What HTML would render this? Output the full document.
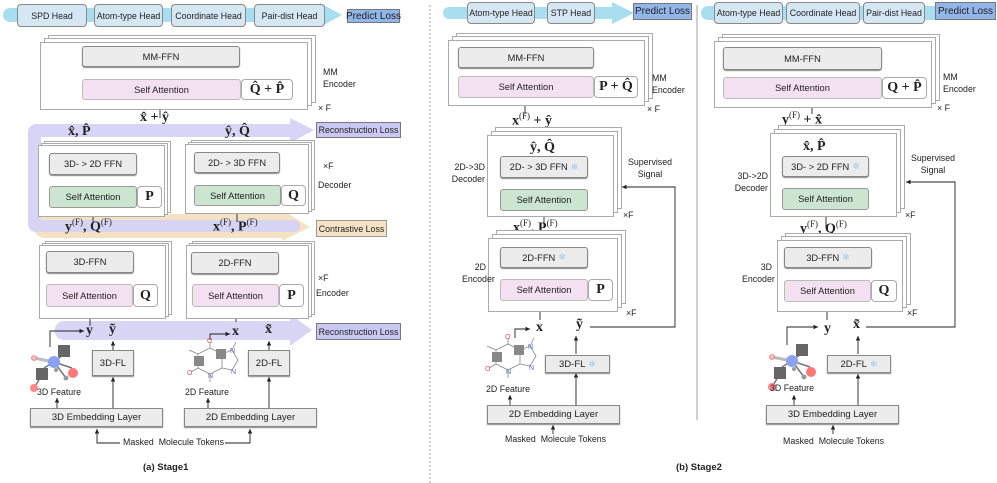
<!DOCTYPE html>
<html><head><meta charset="utf-8"><style>
*{margin:0;padding:0;box-sizing:border-box}
body{width:997px;height:483px;background:#fff;position:relative;overflow:hidden;font-family:"Liberation Sans",sans-serif;color:#222}
.a{position:absolute}
.b{position:absolute;display:flex;align-items:center;justify-content:center;font-size:9.3px;border:1px solid #999;border-radius:3px;white-space:nowrap}
.fr{position:absolute;border:1px solid #aaa;background:#fff}
.ffn{background:#ececec;border-color:#888;box-shadow:0 1px 1px #888}
.sa{background:#f3e0f1;border-color:#bbb}
.gr{background:#cce5d1;border-color:#999}
.hd{background:#d6e7f4;border-color:#888;border-radius:4px;font-size:8.8px}
.pl{background:#92b5ea;border:1px solid #777;border-radius:0;font-size:10px}
.rl{background:#c9c7f3;border:1px solid #777;border-radius:0;font-size:8.8px}
.cl{background:#f6e2c4;border:1px solid #999;border-radius:0;font-size:8.8px}
.m{position:absolute;font-family:"Liberation Serif",serif;font-weight:bold;font-size:14px;white-space:nowrap;line-height:1}
.m sup{font-size:9px;font-weight:normal}
.qb{background:#fff;border-color:#aaa;font-family:"Liberation Serif",serif;font-weight:bold;font-size:14px;border-radius:4px}
.t{position:absolute;font-size:8.8px;white-space:nowrap;line-height:1.35}
.sf{color:#9cc8ee;font-size:9px;margin-left:3px}
</style></head><body>
<svg class="a" style="left:0;top:0" width="997" height="483">
<defs><marker id="ar" markerWidth="6" markerHeight="6" refX="5" refY="3" orient="auto"><path d="M0,0.5 L5,3 L0,5.5Z" fill="#222"/></marker></defs>
<path d="M10,8 H320 V3 L342,15 L320,27 V22 H10 a7,7 0 0 1 0,-14Z" fill="#a8dff0"/>
<path d="M449,7 H612 V2 L634,13 L612,24 V19 H449 a6,6 0 0 1 0,-12Z" fill="#a8dff0"/>
<path d="M708,6 H936 V20 H708 a7,7 0 0 1 0,-14Z" fill="#a8dff0"/>
<path d="M45,214 H282 V210 L310,227 L282,241 V238 H45 a12,12 0 0 1 0,-24Z" fill="#f5e2c4"/>
<path d="M36,124 H290 V118 L314,130 L290,143 V137 H41 V220 H294 a6,6 0 0 1 0,12 H36 a8,8 0 0 1 -8,-8 V132 a8,8 0 0 1 8,-8Z" fill="#d5d2f4" opacity="0.95"/>
<path d="M64,321 H290 V314 L312,330 L290,346 V340 H64 a9.5,9.5 0 0 1 0,-19Z" fill="#d8d6f4"/>
<line x1="430" y1="5" x2="430" y2="483" stroke="#888" stroke-width="0.8" stroke-dasharray="2,2"/>
<line x1="697" y1="5" x2="697" y2="420" stroke="#888" stroke-width="0.8"/>
<g stroke="#222" stroke-width="0.9" fill="none" marker-end="url(#ar)">
<line x1="160" y1="79" x2="160" y2="68"/><line x1="160" y1="118" x2="160" y2="101"/>
<line x1="93" y1="186" x2="93" y2="176"/><line x1="93" y1="222" x2="93" y2="209"/>
<line x1="237" y1="185" x2="237" y2="174"/><line x1="237" y1="222" x2="237" y2="207"/>
<line x1="90" y1="284" x2="90" y2="274"/><line x1="90" y1="326" x2="90" y2="308"/>
<line x1="236" y1="284" x2="236" y2="275"/><line x1="236" y1="322" x2="236" y2="308"/>
<line x1="113" y1="350" x2="113" y2="341"/><line x1="113" y1="408" x2="113" y2="377"/>
<line x1="269" y1="350" x2="269" y2="341"/><line x1="269" y1="408" x2="269" y2="377"/>
<line x1="57" y1="408" x2="57" y2="398"/><line x1="208" y1="408" x2="208" y2="398"/>
<polyline points="50,347 50,331 84,331"/><polyline points="210,340 210,334 230,334"/>
<polyline points="120,443 97,443 97,429"/><polyline points="225,443 250,443 250,429"/>
<line x1="544" y1="76" x2="544" y2="69"/><line x1="525" y1="114" x2="525" y2="99"/>
<line x1="544" y1="189" x2="544" y2="179"/><line x1="544" y1="228" x2="544" y2="212"/>
<line x1="544" y1="279" x2="544" y2="269"/>
<line x1="576" y1="354" x2="576" y2="336"/><line x1="576" y1="405" x2="576" y2="373"/>
<line x1="510" y1="405" x2="510" y2="395"/><line x1="553" y1="434" x2="553" y2="425"/>
<polyline points="515,338 515,329 530,329"/><polyline points="590,327 675,327 675,187 622,187"/>
<line x1="812" y1="114" x2="812" y2="100"/><line x1="826" y1="188" x2="826" y2="178"/>
<line x1="826" y1="228" x2="826" y2="211"/><line x1="827" y1="280" x2="827" y2="269"/>
<line x1="858" y1="354" x2="858" y2="336"/><line x1="858" y1="405" x2="858" y2="374"/>
<line x1="794" y1="405" x2="794" y2="395"/><line x1="833" y1="434" x2="833" y2="425"/>
<polyline points="787,345 787,327 818,327"/><polyline points="866,327 955,327 955,182 906,182"/>
</g>
<g stroke="#222" stroke-width="0.9"><line x1="540" y1="312" x2="540" y2="320"/><line x1="827" y1="312" x2="827" y2="320"/></g>
<defs>
<g id="m3">
<line x1="10" y1="10" x2="30" y2="14" stroke="#bbb" stroke-width="3"/>
<line x1="30" y1="14" x2="42" y2="30" stroke="#777" stroke-width="1.5"/>
<line x1="30" y1="14" x2="48" y2="20" stroke="#777" stroke-width="1.5"/>
<line x1="30" y1="14" x2="40" y2="6" stroke="#777" stroke-width="1.5"/>
<line x1="30" y1="14" x2="20" y2="20" stroke="#777" stroke-width="1.5"/>
<line x1="16" y1="30" x2="10" y2="40" stroke="#777" stroke-width="1.5"/>
<circle cx="10" cy="10" r="2.5" fill="#fbb" stroke="#d66" stroke-width=".6"/>
<circle cx="30" cy="14" r="6" fill="#8aa2f2"/>
<circle cx="49" cy="25" r="5" fill="#f77"/>
<circle cx="10" cy="40" r="4" fill="#f88"/>
<circle cx="42" cy="30" r="2.5" fill="#999"/><circle cx="32" cy="22" r="2" fill="#999"/>
<rect x="34" y="-3" width="12" height="12" fill="#666"/><rect x="12" y="20" width="12" height="12" fill="#666"/>
</g>
<g id="m2" font-size="7" font-family="Liberation Sans">
<g stroke="#888" stroke-width="0.8" fill="none"><path d="M12,14 L24,8 L36,14 L36,28 L24,34 L12,28Z M36,14 L46,10 L52,20 L46,30 L36,28 M24,8 V2 M24,34 V42 M12,14 L3,10 M12,28 L5,32 M46,10 L50,2"/></g>
<rect x="8" y="16" width="10" height="10" fill="#888"/><rect x="30" y="9" width="10" height="10" fill="#888"/>
<text x="21" y="3" fill="#e55">O</text><text x="1" y="35" fill="#e55">O</text>
<text x="22" y="38" fill="#56c">N</text><text x="44" y="13" fill="#56c">N</text><text x="45" y="34" fill="#56c">N</text>
</g>
</defs>
<use href="#m3" x="24" y="348"/><use href="#m3" x="762" y="347"/>
<use href="#m2" x="186" y="340"/><use href="#m2" x="484" y="336"/>
</svg>

<div class="b hd" style="left:17px;top:4px;width:70px;height:23px">SPD Head</div>
<div class="b hd" style="left:94px;top:4px;width:69px;height:23px">Atom-type Head</div>
<div class="b hd" style="left:171px;top:4px;width:75px;height:23px">Coordinate Head</div>
<div class="b hd" style="left:254px;top:4px;width:71px;height:23px">Pair-dist Head</div>
<div class="b pl" style="left:347px;top:9px;width:53px;height:14px">Predict Loss</div>

<div class="fr" style="left:48px;top:35px;width:268px;height:68px"></div>
<div class="fr" style="left:44px;top:38px;width:268px;height:68px"></div>
<div class="fr" style="left:40px;top:42px;width:268px;height:68px"></div>
<div class="b ffn" style="left:82px;top:46px;width:158px;height:21px">MM-FFN</div>
<div class="b sa" style="left:82px;top:79px;width:159px;height:21px">Self Attention</div>
<div class="b qb" style="left:241px;top:79px;width:52px;height:21px">Q̂ + P̂</div>
<div class="t" style="left:323px;top:67px">MM<br>Encoder</div>
<div class="t" style="left:318px;top:103px">× F</div>
<div class="m" style="left:140px;top:111px">x̂ + ŷ</div>
<div class="m" style="left:68px;top:125px">x̂, P̂</div>
<div class="m" style="left:225px;top:125px">ŷ, Q̂</div>
<div class="b rl" style="left:316px;top:122px;width:85px;height:16px">Reconstruction Loss</div>

<div class="fr" style="left:44px;top:141px;width:127px;height:72px"></div>
<div class="fr" style="left:41px;top:143px;width:127px;height:72px"></div>
<div class="fr" style="left:38px;top:145px;width:127px;height:72px"></div>
<div class="b ffn" style="left:49px;top:153px;width:88px;height:22px">3D- &gt; 2D FFN</div>
<div class="b gr" style="left:49px;top:186px;width:88px;height:22px">Self Attention</div>
<div class="b qb" style="left:137px;top:186px;width:25px;height:22px">P</div>
<div class="fr" style="left:191px;top:140px;width:124px;height:70px"></div>
<div class="fr" style="left:188px;top:142px;width:124px;height:70px"></div>
<div class="fr" style="left:185px;top:144px;width:124px;height:70px"></div>
<div class="b ffn" style="left:194px;top:152px;width:86px;height:21px">2D- &gt; 3D FFN</div>
<div class="b gr" style="left:194px;top:185px;width:87px;height:21px">Self Attention</div>
<div class="b qb" style="left:281px;top:185px;width:25px;height:21px">Q</div>
<div class="t" style="left:323px;top:161px">×F</div>
<div class="t" style="left:318px;top:180px">Decoder</div>
<div class="m" style="left:65px;top:218px">y<sup>(F)</sup>, Q<sup>(F)</sup></div>
<div class="m" style="left:213px;top:218px">x<sup>(F)</sup>, P<sup>(F)</sup></div>
<div class="b cl" style="left:316px;top:220px;width:71px;height:17px">Contrastive Loss</div>

<div class="fr" style="left:45px;top:241px;width:127px;height:74px"></div>
<div class="fr" style="left:42px;top:243px;width:127px;height:74px"></div>
<div class="fr" style="left:39px;top:245px;width:127px;height:74px"></div>
<div class="b ffn" style="left:46px;top:251px;width:88px;height:22px">3D-FFN</div>
<div class="b sa" style="left:46px;top:284px;width:87px;height:23px">Self Attention</div>
<div class="b qb" style="left:133px;top:284px;width:25px;height:23px">Q</div>
<div class="fr" style="left:192px;top:241px;width:123px;height:74px"></div>
<div class="fr" style="left:189px;top:243px;width:123px;height:74px"></div>
<div class="fr" style="left:186px;top:245px;width:123px;height:74px"></div>
<div class="b ffn" style="left:191px;top:252px;width:88px;height:22px">2D-FFN</div>
<div class="b sa" style="left:192px;top:284px;width:87px;height:23px">Self Attention</div>
<div class="b qb" style="left:279px;top:284px;width:25px;height:23px">P</div>
<div class="t" style="left:318px;top:273px">×F</div>
<div class="t" style="left:316px;top:288px">Encoder</div>
<div class="m" style="left:86px;top:324px">y</div>
<div class="m" style="left:109px;top:323px">ỹ</div>
<div class="m" style="left:232px;top:325px">x</div>
<div class="m" style="left:265px;top:323px">x̃</div>
<div class="b rl" style="left:316px;top:323px;width:85px;height:17px">Reconstruction Loss</div>
<div class="b ffn" style="left:92px;top:350px;width:42px;height:26px;font-size:9.5px;border-radius:0">3D-FL</div>
<div class="b ffn" style="left:248px;top:350px;width:42px;height:26px;font-size:9.5px;border-radius:0">2D-FL</div>
<div class="t" style="left:37px;top:387px">3D Feature</div>
<div class="t" style="left:185px;top:387px">2D Feature</div>
<div class="b ffn" style="left:30px;top:408px;width:133px;height:19px;font-size:9.5px;border-radius:0">3D Embedding Layer</div>
<div class="b ffn" style="left:184px;top:408px;width:133px;height:19px;font-size:9.5px;border-radius:0">2D Embedding Layer</div>
<div class="t" style="left:123px;top:437px">Masked&nbsp; Molecule Tokens</div>
<div class="t" style="left:143px;top:462px;font-weight:bold;font-size:9.5px">(a) Stage1</div>

<div class="b hd" style="left:467px;top:2px;width:68px;height:22px">Atom-type Head</div>
<div class="b hd" style="left:547px;top:2px;width:48px;height:22px">STP Head</div>
<div class="b pl" style="left:633px;top:3px;width:59px;height:17px">Predict Loss</div>
<div class="fr" style="left:456px;top:33px;width:197px;height:66px"></div>
<div class="fr" style="left:452px;top:36px;width:197px;height:66px"></div>
<div class="fr" style="left:448px;top:40px;width:197px;height:66px"></div>
<div class="b ffn" style="left:458px;top:47px;width:136px;height:21px">MM-FFN</div>
<div class="b sa" style="left:458px;top:76px;width:136px;height:22px">Self Attention</div>
<div class="b qb" style="left:594px;top:76px;width:44px;height:22px">P + Q̂</div>
<div class="t" style="left:652px;top:73px">MM<br>Encoder</div>
<div class="t" style="left:647px;top:104px">× F</div>
<div class="m" style="left:512px;top:112px">x<sup>(F)</sup> + ŷ</div>
<div class="fr" style="left:495px;top:127px;width:127px;height:82px"></div>
<div class="fr" style="left:491px;top:131px;width:127px;height:82px"></div>
<div class="fr" style="left:487px;top:135px;width:127px;height:82px"></div>
<div class="m" style="left:530px;top:141px">ŷ, Q̂</div>
<div class="b ffn" style="left:500px;top:156px;width:88px;height:22px">2D- &gt; 3D FFN<span class="sf">❄</span></div>
<div class="b gr" style="left:500px;top:189px;width:88px;height:22px">Self Attention</div>
<div class="t" style="left:447px;top:162px;text-align:right;width:38px">2D-&gt;3D<br>Decoder</div>
<div class="t" style="left:625px;top:157px;text-align:center;width:50px">Supervised<br>Signal</div>
<div class="t" style="left:623px;top:210px">×F</div>
<div class="m" style="left:513px;top:219px">x<sup>(F)</sup>, P<sup>(F)</sup></div>
<div class="fr" style="left:496px;top:230px;width:130px;height:74px"></div>
<div class="fr" style="left:492px;top:234px;width:130px;height:74px"></div>
<div class="fr" style="left:488px;top:238px;width:130px;height:74px"></div>
<div class="b ffn" style="left:500px;top:247px;width:88px;height:21px">2D-FFN<span class="sf">❄</span></div>
<div class="b sa" style="left:500px;top:279px;width:88px;height:22px">Self Attention</div>
<div class="b qb" style="left:588px;top:279px;width:25px;height:22px">P</div>
<div class="t" style="left:462px;top:262px;text-align:right;width:24px">2D<br>Encoder</div>
<div class="t" style="left:626px;top:308px">×F</div>
<div class="m" style="left:536px;top:321px">x</div>
<div class="m" style="left:576px;top:318px">ỹ</div>
<div class="b ffn" style="left:545px;top:355px;width:65px;height:18px;font-size:9.5px;border-radius:0">3D-FL<span class="sf">❄</span></div>
<div class="t" style="left:486px;top:384px">2D Feature</div>
<div class="b ffn" style="left:487px;top:405px;width:133px;height:19px;font-size:9.5px;border-radius:0">2D Embedding Layer</div>
<div class="t" style="left:505px;top:434px">Masked&nbsp; Molecule Tokens</div>
<div class="t" style="left:676px;top:462px;font-weight:bold;font-size:9.5px">(b) Stage2</div>

<div class="b hd" style="left:714px;top:2px;width:69px;height:22px">Atom-type Head</div>
<div class="b hd" style="left:786px;top:2px;width:74px;height:22px">Coordinate Head</div>
<div class="b hd" style="left:863px;top:2px;width:62px;height:22px">Pair-dist Head</div>
<div class="b pl" style="left:935px;top:2px;width:61px;height:18px">Predict Loss</div>
<div class="fr" style="left:722px;top:34px;width:218px;height:67px"></div>
<div class="fr" style="left:718px;top:37px;width:218px;height:67px"></div>
<div class="fr" style="left:714px;top:41px;width:218px;height:67px"></div>
<div class="b ffn" style="left:723px;top:47px;width:159px;height:23px">MM-FFN</div>
<div class="b sa" style="left:723px;top:77px;width:159px;height:22px">Self Attention</div>
<div class="b qb" style="left:882px;top:77px;width:45px;height:22px">Q + P̂</div>
<div class="t" style="left:943px;top:72px">MM<br>Encoder</div>
<div class="t" style="left:937px;top:103px">× F</div>
<div class="m" style="left:782px;top:111px">y<sup>(F)</sup> + x̂</div>
<div class="fr" style="left:778px;top:125px;width:127px;height:84px"></div>
<div class="fr" style="left:774px;top:129px;width:127px;height:84px"></div>
<div class="fr" style="left:770px;top:133px;width:127px;height:84px"></div>
<div class="m" style="left:803px;top:140px">x̂, P̂</div>
<div class="b ffn" style="left:782px;top:156px;width:87px;height:21px">3D- &gt; 2D FFN<span class="sf">❄</span></div>
<div class="b gr" style="left:782px;top:188px;width:87px;height:22px">Self Attention</div>
<div class="t" style="left:728px;top:171px;text-align:right;width:40px">3D-&gt;2D<br>Decoder</div>
<div class="t" style="left:908px;top:153px;text-align:center;width:50px">Supervised<br>Signal</div>
<div class="t" style="left:905px;top:210px">×F</div>
<div class="m" style="left:800px;top:220px">y<sup>(F)</sup>, Q<sup>(F)</sup></div>
<div class="fr" style="left:785px;top:233px;width:126px;height:72px"></div>
<div class="fr" style="left:781px;top:236px;width:126px;height:72px"></div>
<div class="fr" style="left:777px;top:240px;width:126px;height:72px"></div>
<div class="b ffn" style="left:784px;top:247px;width:88px;height:21px">3D-FFN<span class="sf">❄</span></div>
<div class="b sa" style="left:784px;top:280px;width:87px;height:22px">Self Attention</div>
<div class="b qb" style="left:871px;top:280px;width:26px;height:22px">Q</div>
<div class="t" style="left:742px;top:262px;text-align:right;width:30px">3D<br>Encoder</div>
<div class="t" style="left:907px;top:308px">×F</div>
<div class="m" style="left:824px;top:322px">y</div>
<div class="m" style="left:853px;top:318px">x̃</div>
<div class="b ffn" style="left:827px;top:355px;width:64px;height:18px;font-size:9.5px;border-radius:0">2D-FL<span class="sf">❄</span></div>
<div class="t" style="left:770px;top:383px">3D Feature</div>
<div class="b ffn" style="left:766px;top:405px;width:133px;height:19px;font-size:9.5px;border-radius:0">3D Embedding Layer</div>
<div class="t" style="left:783px;top:436px">Masked&nbsp; Molecule Tokens</div>
</body></html>
